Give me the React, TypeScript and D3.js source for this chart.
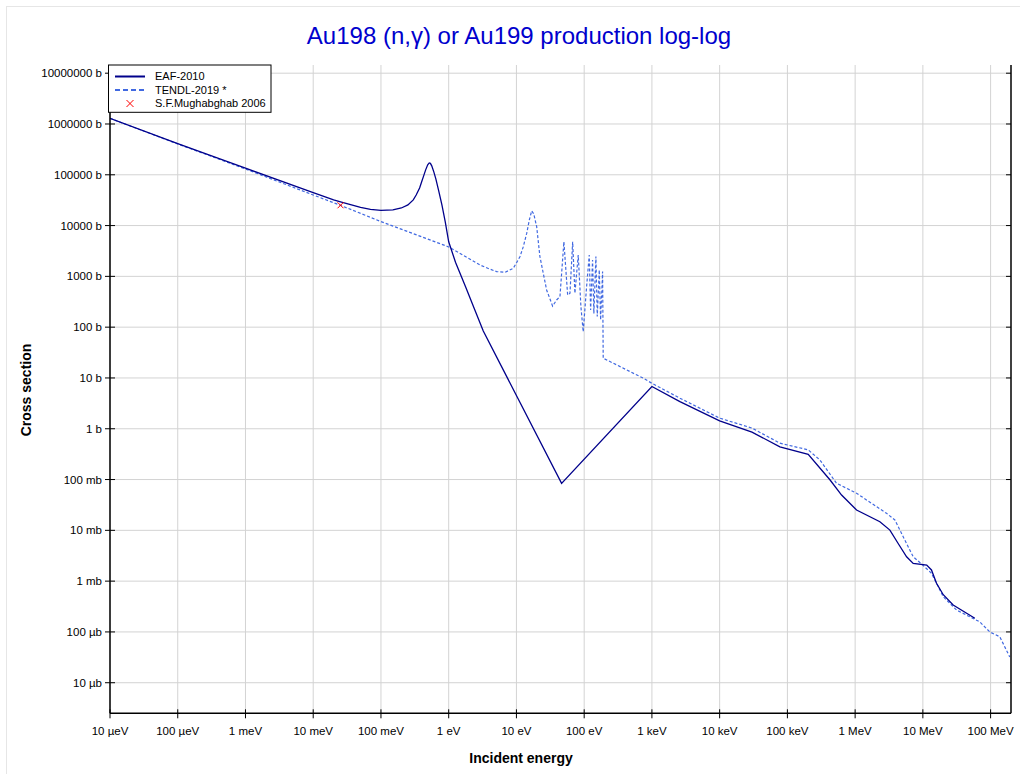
import React from "react";
import * as d3 from "d3";

const xTickValues = [1e-5, 1e-4, 1e-3, 1e-2, 1e-1, 1, 10, 100, 1e3, 1e4, 1e5, 1e6, 1e7, 1e8];
const xTickLabels = ["10 µeV", "100 µeV", "1 meV", "10 meV", "100 meV", "1 eV", "10 eV", "100 eV", "1 keV", "10 keV", "100 keV", "1 MeV", "10 MeV", "100 MeV"];
const yTickValues = [1e-5, 1e-4, 1e-3, 1e-2, 1e-1, 1, 10, 100, 1e3, 1e4, 1e5, 1e6, 1e7];
const yTickLabels = ["10 µb", "100 µb", "1 mb", "10 mb", "100 mb", "1 b", "10 b", "100 b", "1000 b", "10000 b", "100000 b", "1000000 b", "10000000 b"];

const eafEnergy = [1e-5, 1e-4, 1e-3, 1e-2, 0.02, 0.0253, 0.05, 0.07, 0.1, 0.15, 0.2, 0.25, 0.3, 0.331, 0.372, 0.398, 0.427, 0.457, 0.49, 0.516, 0.537, 0.562, 0.603, 0.646, 0.708, 0.794, 0.891, 1.0, 1.26, 1.78, 2.4, 3.24, 46.4, 1000, 2590, 1e4, 3e4, 7.75e4, 2.03e5, 4.27e5, 6.31e5, 1.05e6, 2.32e6, 3.26e6, 4.32e6, 5.75e6, 7.2e6, 1.14e7, 1.34e7, 1.59e7, 2.0e7, 2.8e7, 5.85e7];
const eafSigma = [1.29e6, 4.1e5, 1.35e5, 4.47e4, 3.2e4, 2.92e4, 2.28e4, 2.08e4, 1.99e4, 2.03e4, 2.22e4, 2.55e4, 3.2e4, 4.0e4, 5.5e4, 7.2e4, 9.5e4, 1.25e5, 1.57e5, 1.71e5, 1.68e5, 1.5e5, 1.14e5, 8.3e4, 5.0e4, 2.55e4, 1.17e4, 4.8e3, 1.9e3, 620, 229, 84, 0.084, 6.8, 3.41, 1.43, 0.86, 0.44, 0.314, 0.098, 0.0495, 0.0251, 0.0148, 0.0101, 0.0055, 0.00302, 0.00224, 0.00207, 0.00166, 0.00091, 0.00054, 0.00034, 0.000186];

const tendlEnergy = [1e-5, 1e-4, 1e-3, 1e-2, 0.0253, 0.1, 1.0, 2.89, 4.0, 5.1, 6.76, 8.97, 10, 11.3, 12.6, 14.2, 15.5, 16.8, 18, 19.9, 22.2, 27.9, 34.2, 39.2, 43.9, 50.2, 57, 61.7, 67.6, 73, 81.7, 89.5, 96.8, 108.6, 118.8, 124.5, 133, 139, 149, 156, 167, 175, 187, 191, 745, 991, 2590, 1e4, 3e4, 7.75e4, 2.03e5, 3.02e5, 5.32e5, 1.05e6, 2.91e6, 3.86e6, 5.12e6, 7.2e6, 9.57e6, 1.34e7, 2.0e7, 3.14e7, 6.9e7, 9.75e7, 1.37e8, 1.92e8];
const tendlSigma = [1.29e6, 4.05e5, 1.3e5, 4.0e4, 2.5e4, 1.2e4, 3.8e3, 1680, 1400, 1240, 1200, 1440, 1840, 2460, 3800, 7100, 1.29e4, 19500, 1.7e4, 9500, 2460, 540, 260, 343, 400, 4800, 430, 465, 4800, 465, 2630, 253, 81, 630, 2630, 218, 2100, 186, 2460, 162, 1340, 139, 1240, 24.5, 9.9, 7.9, 4.0, 1.62, 1.03, 0.52, 0.384, 0.243, 0.0843, 0.0537, 0.0216, 0.016, 0.0075, 0.00302, 0.00217, 0.00143, 0.000493, 0.00027, 0.000158, 0.0001, 8.0e-5, 3.2e-5];

const mughabEnergy = [0.0253];
const mughabSigma = [2.51e4];

const FONT = "'Liberation Sans', Arial, Helvetica, sans-serif";
const EAF_COLOR = "#00008b";
const TENDL_COLOR = "#4169e1";

export default function App() {
  const left = 110, right = 1011, top = 65, bottom = 713.3;
  const x = d3.scaleLog().domain([1e-5, 2e8]).range([left, right]);
  const y = d3.scaleLog().domain([2.5e-6, 1.45e7]).range([bottom, top]);

  const line = d3
    .line<[number, number]>()
    .x((d) => x(d[0]))
    .y((d) => y(d[1]));

  const eafData = eafEnergy.map((e, i) => [e, eafSigma[i]] as [number, number]);
  const tendlData = tendlEnergy.map((e, i) => [e, tendlSigma[i]] as [number, number]);

  const cross = (cx: number, cy: number, s: number, key?: string) => (
    <path
      key={key}
      d={`M${cx - s},${cy - s}L${cx + s},${cy + s}M${cx - s},${cy + s}L${cx + s},${cy - s}`}
      stroke="#ff0000"
      strokeWidth={1}
      fill="none"
    />
  );

  return (
    <svg
      width={1020}
      height={774}
      style={{ position: "absolute", left: 0, top: 0, background: "#fff" }}
      fontFamily={FONT}
    >
      <rect x={6.5} y={6.5} width={1020} height={774} fill="#fff" stroke="#e6e6e6" strokeWidth={1} />
      <defs>
        <clipPath id="plotClip">
          <rect x={left} y={top} width={right - left} height={bottom - top} />
        </clipPath>
      </defs>

      <text x={519} y={44} textAnchor="middle" fontSize={24} fill="#0000cd">
        Au198 (n,γ) or Au199 production log-log
      </text>

      {/* grid */}
      <g stroke="#d3d3d3" strokeWidth={1}>
        {xTickValues.map((v) => (
          <line key={"gx" + v} x1={x(v)} x2={x(v)} y1={top} y2={bottom} />
        ))}
        {yTickValues.map((v) => (
          <line key={"gy" + v} x1={left} x2={right} y1={y(v)} y2={y(v)} />
        ))}
      </g>

      {/* curves */}
      <g clipPath="url(#plotClip)">
        <path d={line(tendlData) || ""} fill="none" stroke={TENDL_COLOR} strokeWidth={1.2} strokeDasharray="3,2" />
        <path d={line(eafData) || ""} fill="none" stroke={EAF_COLOR} strokeWidth={1.3} />
        {mughabEnergy.map((e, i) => cross(x(e), y(mughabSigma[i]), 3, "m" + i))}
      </g>

      {/* axes */}
      <g stroke="#000" strokeWidth={1.5}>
        <line x1={left} x2={left} y1={top} y2={bottom} />
        <line x1={left} x2={right} y1={bottom} y2={bottom} />
        <line x1={right} x2={right} y1={top} y2={bottom} />
      </g>
      <g stroke="#000" strokeWidth={1}>
        {yTickValues.map((v) => (
          <line key={"ty" + v} x1={left - 5} x2={left + 5} y1={y(v)} y2={y(v)} />
        ))}
        {yTickValues.map((v) => (
          <line key={"tyr" + v} x1={right - 5} x2={right} y1={y(v)} y2={y(v)} />
        ))}
        {xTickValues.map((v) => (
          <line key={"tx" + v} x1={x(v)} x2={x(v)} y1={bottom - 4} y2={bottom + 5} />
        ))}
      </g>
      <g fontSize={11.5} fill="#000">
        {yTickValues.map((v, i) => (
          <text key={"ly" + v} x={102} y={y(v)} dy="0.35em" textAnchor="end">
            {yTickLabels[i]}
          </text>
        ))}
        {xTickValues.map((v, i) => (
          <text key={"lx" + v} x={x(v)} y={735} textAnchor="middle">
            {xTickLabels[i]}
          </text>
        ))}
      </g>

      <text x={521} y={763} textAnchor="middle" fontSize={14} fontWeight="bold">
        Incident energy
      </text>
      <text transform="translate(31,390) rotate(-90)" textAnchor="middle" fontSize={14} fontWeight="bold">
        Cross section
      </text>

      {/* legend */}
      <g>
        <rect x={108.5} y={65} width={162.5} height={47.3} fill="#fff" stroke="#000" strokeWidth={1} />
        <line x1={115} x2={145} y1={76.5} y2={76.5} stroke={EAF_COLOR} strokeWidth={2} />
        <line x1={115} x2={145} y1={90} y2={90} stroke={TENDL_COLOR} strokeWidth={2} strokeDasharray="5,3" />
        {cross(130, 103.5, 3.5)}
        <g fontSize={11} fill="#000">
          <text x={155} y={76.5} dy="0.35em">EAF-2010</text>
          <text x={155} y={90} dy="0.35em">TENDL-2019 *</text>
          <text x={155} y={103.5} dy="0.35em">S.F.Mughabghab 2006</text>
        </g>
      </g>
    </svg>
  );
}
